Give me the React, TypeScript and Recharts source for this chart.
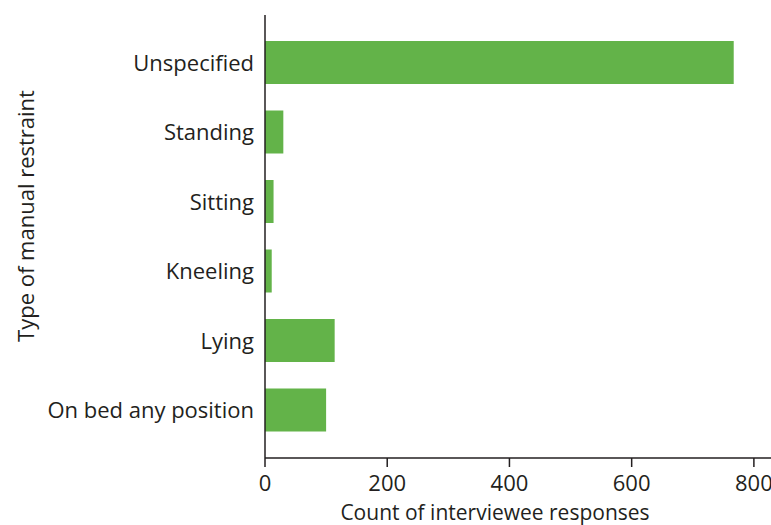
import { BarChart, Bar, XAxis, YAxis, Label } from 'recharts';

// restraint positions, top to bottom
const positions = [
  'Unspecified',
  'Standing',
  'Sitting',
  'Kneeling',
  'Lying',
  'On bed any position',
];

// number of interviewee responses per position
const counts = [767, 30, 14, 11, 114, 100];

const xTicks = [0, 200, 400, 600, 800];

const data = positions.map((name, i) => ({ name, count: counts[i] }));

const INK = '#231f20';
const GREEN = '#63b349';
const FONT = '"Open Sans", "Noto Sans", sans-serif';

export default function App() {
  return (
    <div style={{ position: 'absolute', left: 0, top: 0, width: 771, height: 525, background: '#fff' }}>
      <BarChart
        width={771}
        height={525}
        data={data}
        layout="vertical"
        margin={{ top: 15, right: 0, left: 0, bottom: 0 }}
        style={{ fontFamily: FONT }}
      >
        <XAxis
          type="number"
          domain={[0, 828]}
          ticks={xTicks}
          allowDataOverflow
          height={67}
          axisLine={{ stroke: INK, strokeWidth: 1.5 }}
          tickLine={{ stroke: INK, strokeWidth: 1.5 }}
          tickSize={9}
          tickMargin={8}
          tick={{ fill: INK, fontSize: 22, fontFamily: FONT }}
        >
          <Label
            value="Count of interviewee responses"
            content={() => (
              <text
                x={495}
                y={520}
                textAnchor="middle"
                fill={INK}
                fontSize={21}
                fontFamily={FONT}
              >
                Count of interviewee responses
              </text>
            )}
          />
        </XAxis>
        <YAxis
          type="category"
          dataKey="name"
          width={265}
          padding={{ top: 13, bottom: 13 }}
          axisLine={{ stroke: INK, strokeWidth: 1.5 }}
          tickLine={false}
          tickSize={0}
          tickMargin={11}
          tick={{ fill: INK, fontSize: 22, fontFamily: FONT }}
          interval={0}
        >
          <Label
            value="Type of manual restraint"
            content={() => (
              <text
                transform="translate(25,216) rotate(-90)"
                textAnchor="middle"
                dominantBaseline="central"
                fill={INK}
                fontSize={22}
                fontFamily={FONT}
              >
                Type of manual restraint
              </text>
            )}
          />
        </YAxis>
        <Bar dataKey="count" fill={GREEN} barSize={43} isAnimationActive={false} />
      </BarChart>
    </div>
  );
}
